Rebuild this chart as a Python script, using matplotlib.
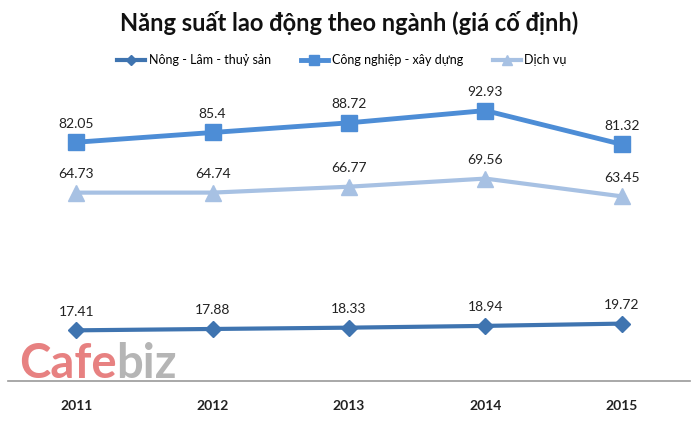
import matplotlib.pyplot as plt

years = ["2011", "2012", "2013", "2014", "2015"]
nong_lam = [17.41, 17.88, 18.33, 18.94, 19.72]
cong_nghiep = [82.05, 85.4, 88.72, 92.93, 81.32]
dich_vu = [64.73, 64.74, 66.77, 69.56, 63.45]

series_names = ["Nông - Lâm - thuỷ sản", "Công nghiệp - xây dựng", "Dịch vụ"]

plt.rcParams['font.family'] = ['Lato', 'DejaVu Sans']

fig = plt.figure(figsize=(6.98, 4.22), dpi=100)
ax = fig.add_axes([8 / 698, 41 / 422, 682 / 698, 291 / 422])

x = range(len(years))
ax.plot(x, nong_lam, color='#3F74B0', lw=3, marker='D', ms=8,
        label=series_names[0])
ax.plot(x, cong_nghiep, color='#4D8DD6', lw=3.5, marker='s', ms=11,
        label=series_names[1])
ax.plot(x, dich_vu, color='#A7C1E3', lw=3, marker='^', ms=11,
        label=series_names[2])

# nhãn giá trị
for vals in (nong_lam, cong_nghiep, dich_vu):
    for i, v in enumerate(vals):
        ax.annotate(f"{v:g}", (i, v), xytext=(0, 9), textcoords='offset points',
                    ha='center', va='bottom', fontsize=10, color='#222222')

ax.set_xlim(-0.5, 4.5)
ax.set_ylim(0, 100)
ax.set_xticks(list(x))
ax.set_xticklabels(years, fontsize=10, fontweight='bold', color='#222222')
ax.tick_params(axis='x', length=0, pad=14)
ax.set_yticks([])
for s in ['top', 'right', 'left']:
    ax.spines[s].set_visible(False)
ax.spines['bottom'].set_color('#999999')
ax.spines['bottom'].set_linewidth(1.2)

fig.text(0.5, 0.945, "Năng suất lao động theo ngành (giá cố định)",
         ha='center', va='center', fontsize=17, fontweight='bold', color='#111111')

fig.legend(loc='center', bbox_to_anchor=(0.49, 0.857), ncol=3, frameon=False,
           fontsize=9, handlelength=2.2, handletextpad=0.3, columnspacing=2.4,
           markerscale=0.65)

# watermark
fig.text(0.028, 0.105, "Cafe", fontsize=34, fontweight='bold', color='#E36B6B', alpha=0.85)
fig.text(0.166, 0.105, "biz", fontsize=34, fontweight='bold', color='#A8A8A8', alpha=0.85)

fig.savefig("out.png", dpi=100)
